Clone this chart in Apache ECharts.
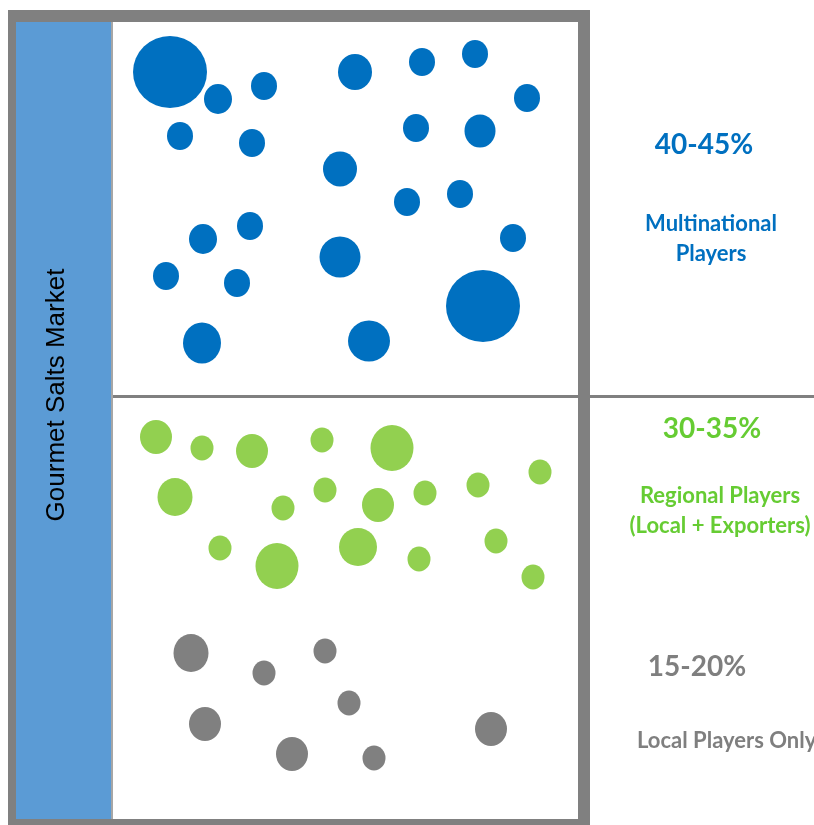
<!DOCTYPE html>
<html>
<head>
<meta charset="utf-8">
<title>Gourmet Salts Market</title>
<script src="https://cdn.jsdelivr.net/npm/echarts@6/dist/echarts.min.js"></script>
<style>
  html, body { margin: 0; padding: 0; background: #ffffff; }
  #chart { width: 814px; height: 825px; }
</style>
</head>
<body>
<div id="chart"></div>
<script>
// Each bubble: [x, y, width, height] in the page's pixel space.
const multinationalBubbles = [
  [170, 72, 74, 72], [218, 99, 28, 30], [264, 86, 26, 28], [180, 136, 26, 28],
  [252, 143, 26, 28], [355, 72, 34, 36], [422, 62, 26, 28], [475, 54, 26, 28],
  [527, 98, 26, 28], [416, 128, 26, 28], [480, 131, 31, 33], [340, 169, 34, 35],
  [407, 202, 26, 28], [460, 194, 26, 28], [203, 239, 28, 30], [250, 226, 26, 28],
  [166, 276, 26, 28], [237, 283, 26, 28], [202, 343, 38, 41], [340, 257, 41, 41],
  [513, 238, 26, 28], [483, 306, 74, 72], [369, 341, 42, 41]
];
const regionalBubbles = [
  [156, 437, 32, 34], [202, 448, 23, 25], [252, 451, 32, 34], [322, 440, 23, 25],
  [392, 448, 43, 46], [540, 472, 23, 25], [175, 497, 35, 38], [283, 508, 23, 25],
  [325, 490, 23, 25], [378, 505, 32, 34], [425, 493, 23, 25], [478, 485, 23, 25],
  [220, 548, 23, 25], [277, 566, 43, 46], [358, 547, 38, 38], [419, 559, 23, 25],
  [496, 541, 23, 25], [533, 577, 23, 25]
];
const localBubbles = [
  [191, 653, 35, 38], [264, 673, 23, 25], [325, 651, 23, 25], [349, 703, 23, 25],
  [205, 724, 32, 34], [292, 754, 32, 34], [374, 758, 23, 25], [491, 729, 32, 34]
];

const marketTitle = 'Gourmet Salts Market';
const shareLabels = ['40-45%', '30-35%', '15-20%'];
const segmentNames = ['Multinational\nPlayers', 'Regional Players\n(Local + Exporters)', 'Local Players Only'];

const BLUE = '#0070C0', GREEN = '#92D050', GREY = '#808080';
const GREEN_TEXT = '#66CC33', GREY_TEXT = '#7F7F7F';
const FONT = 'Lato, "Open Sans", "Liberation Sans", sans-serif';

const chart = echarts.init(document.getElementById('chart'), null, { renderer: 'canvas' });

function bubbleSeries(name, data, color) {
  return {
    name, type: 'scatter', data, z: 5, silent: true,
    symbol: 'circle',
    symbolSize: v => [v[2], v[3]],
    itemStyle: { color, opacity: 1 },
    emphasis: { disabled: true }
  };
}

function label(text, x, y, color, size, align) {
  return {
    type: 'text', z: 6, silent: true, x, y,
    style: {
      text, fill: color, fontFamily: FONT, fontWeight: 'bold', fontSize: size,
      align: align || 'center', verticalAlign: 'middle', lineHeight: 30
    }
  };
}

chart.setOption({
  animation: false,
  backgroundColor: '#ffffff',
  grid: { left: 0, right: 0, top: 0, bottom: 0 },
  xAxis: { type: 'value', min: 0, max: 814, show: false },
  yAxis: { type: 'value', min: 0, max: 825, inverse: true, show: false },
  graphic: [
    // outer frame
    { type: 'rect', z: 0, silent: true, shape: { x: 8, y: 10, width: 582, height: 825 }, style: { fill: GREY } },
    { type: 'rect', z: 1, silent: true, shape: { x: 16, y: 22, width: 562, height: 797 }, style: { fill: '#ffffff' } },
    // side band with the market name
    { type: 'rect', z: 1, silent: true, shape: { x: 16, y: 22, width: 95, height: 797 }, style: { fill: '#5B9BD5' } },
    { type: 'rect', z: 1, silent: true, shape: { x: 111, y: 22, width: 2, height: 797 }, style: { fill: '#A6A6A6' } },
    {
      type: 'text', z: 2, silent: true, x: 57, y: 395, rotation: Math.PI / 2,
      style: { text: marketTitle, fill: '#000000', fontFamily: '"Liberation Sans", Arial, sans-serif', fontSize: 26, align: 'center', verticalAlign: 'middle' }
    },
    // divider between the multinational and regional tiers
    { type: 'rect', z: 2, silent: true, shape: { x: 113, y: 395, width: 701, height: 3 }, style: { fill: GREY } },
    // tier annotations
    label(shareLabels[0], 704, 145, BLUE, 28),
    label(segmentNames[0], 711, 239, BLUE, 22),
    label(shareLabels[1], 712, 429, GREEN_TEXT, 28),
    label(segmentNames[1], 720, 511, GREEN_TEXT, 22),
    label(shareLabels[2], 697, 667, GREY_TEXT, 28),
    label(segmentNames[2], 637, 741, GREY_TEXT, 22, 'left')
  ],
  series: [
    bubbleSeries('Multinational Players', multinationalBubbles, BLUE),
    bubbleSeries('Regional Players', regionalBubbles, GREEN),
    bubbleSeries('Local Players Only', localBubbles, GREY)
  ]
});
</script>
</body>
</html>
